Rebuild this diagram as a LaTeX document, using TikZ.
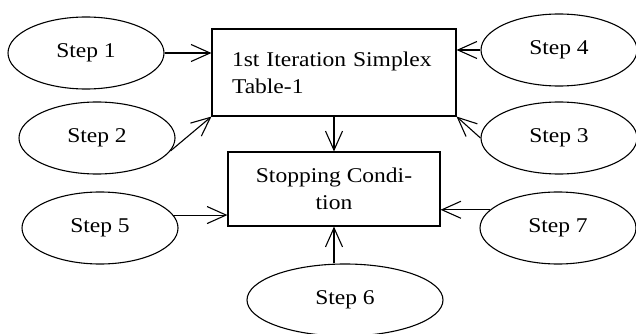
\documentclass[tikz,border=0pt]{standalone}
\usepackage{fontspec}
\setmainfont{Liberation Serif}[FakeStretch=1.12]
\usetikzlibrary{shapes.geometric,arrows.meta}
\begin{document}
\begin{tikzpicture}[x=1pt,y=-1pt,
  every node/.style={font=\fontsize{21}{27}\selectfont},
  stepnode/.style={draw, ellipse, line width=1.1pt, inner sep=0pt, minimum width=156pt, minimum height=72pt},
  boxnode/.style={draw, rectangle, line width=1.1pt, inner sep=0pt},
  arr/.style={line width=1.1pt, -{Straight Barb[length=19pt,width=17pt,line width=1.1pt]}}
]
\useasboundingbox (0,0) rectangle (636,334);
\node[boxnode, minimum width=244pt, minimum height=87pt, text width=204pt, align=left] (b1) at (334,72.5) {1st Iteration Simplex\\Table-1};
\node[boxnode, minimum width=212pt, minimum height=74pt, align=center] (b2) at (334,189) {Stopping Condi-\\tion};
\node[stepnode] (s1) at (86,53) {Step 1};
\node[stepnode] (s2) at (97,138) {Step 2};
\node[stepnode] (s4) at (559,50) {Step 4};
\node[stepnode] (s3) at (559,138) {Step 3};
\node[stepnode] (s5) at (100,228) {Step 5};
\node[stepnode] (s7) at (558,228) {Step 7};
\node[stepnode, minimum width=196pt] (s6) at (345,300) {Step 6};
\draw[arr] (s1.east) -- (s1.east -| b1.west);
\draw[arr] (s2.-10) -- (b1.south west);
\draw[arr] (s4.west) -- (s4.west -| b1.east);
\draw[arr] (s3.west) -- (b1.south east);
\draw[arr] (b1.south) -- (b2.north);
\draw[arr] (s5.10) -- (s5.10 -| b2.west);
\draw[arr] (s7.165) -- (s7.165 -| b2.east);
\draw[arr] (s6.north -| b2.south) -- (b2.south);
\end{tikzpicture}
\end{document}
